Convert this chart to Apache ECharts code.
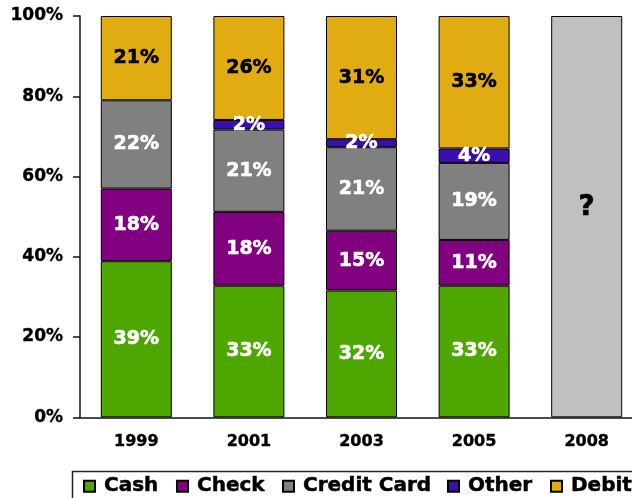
<!DOCTYPE html>
<html>
<head>
<meta charset="utf-8">
<script src="https://cdn.jsdelivr.net/npm/echarts@6/dist/echarts.min.js"></script>
<style>html,body{margin:0;padding:0;background:#fff}#c{width:632px;height:498px}</style>
</head>
<body>
<div id="c"></div>
<script>
var years = ['1999', '2001', '2003', '2005', '2008'];
var cash = [38.9, 32.8, 31.6, 32.8, null];
var check = [18.1, 18.4, 14.9, 11.4, null];
var creditCard = [22.0, 20.5, 20.8, 19.2, null];
var other = [null, 2.4, 2.0, 3.6, null];
var debit = [21.0, 25.9, 30.7, 33.0, null];
var unknown = [null, null, null, null, 100];
var yTicks = [0, 20, 40, 60, 80, 100];

var FONT = '"DejaVu Sans", Verdana, sans-serif';
var chart = echarts.init(document.getElementById('c'));

function pct(p) { return p.value == null ? '' : Math.round(p.value) + '%'; }

function mk(name, data, color, labelColor) {
  return {
    name: name, type: 'bar', stack: 'total', data: data, barWidth: 71,
    itemStyle: { color: color, borderColor: '#000', borderWidth: 1 },
    label: { show: true, position: 'inside', formatter: pct, color: labelColor,
      textBorderColor: labelColor, textBorderWidth: 0.6,
      fontFamily: FONT, fontWeight: 'bold', fontSize: 19 },
    emphasis: { disabled: true }
  };
}

var names = ['Cash', 'Check', 'Credit Card', 'Other', 'Debit'];
var legendLeft = [83, 176, 282, 447, 550];
var legends = names.map(function (n, i) {
  return {
    data: [n], left: legendLeft[i], top: 476, padding: 0,
    itemWidth: 11, itemHeight: 11, icon: 'rect', selectedMode: false,
    textStyle: { fontFamily: FONT, fontWeight: 'bold', fontSize: 20, color: '#000',
      textBorderColor: '#000', textBorderWidth: 0.5, padding: [0, 0, 0, 4] }
  };
});

chart.setOption({
  animation: false,
  backgroundColor: '#fff',
  grid: { left: 80, top: 16, width: 563, height: 401.3, outerBoundsMode: 'none', containLabel: false },
  legend: legends,
  xAxis: {
    type: 'category', data: years,
    axisLine: { lineStyle: { color: '#111', width: 1.5 } },
    axisTick: { length: 6, lineStyle: { color: '#111', width: 1.5 } },
    axisLabel: { color: '#000', fontFamily: FONT, fontWeight: 'bold', fontSize: 16, margin: 17,
      textBorderColor: '#000', textBorderWidth: 0.4 }
  },
  yAxis: {
    type: 'value', min: yTicks[0], max: yTicks[yTicks.length - 1], interval: 20,
    axisLine: { show: true, lineStyle: { color: '#111', width: 1.5 } },
    axisTick: { show: true, length: 7, lineStyle: { color: '#111', width: 1.5 } },
    splitLine: { show: false },
    axisLabel: { formatter: '{value}%', color: '#000', fontFamily: FONT, fontWeight: 'bold', fontSize: 17, margin: 17,
      textBorderColor: '#000', textBorderWidth: 0.4 }
  },
  graphic: [{
    type: 'rect', shape: { x: 72.5, y: 471.5, width: 600, height: 60 },
    style: { fill: 'none', stroke: '#222', lineWidth: 1.5 }, silent: true
  }],
  series: [
    mk('Cash', cash, '#4ea600', '#fff'),
    mk('Check', check, '#800080', '#fff'),
    mk('Credit Card', creditCard, '#808080', '#fff'),
    mk('Other', other, '#3a0fae', '#fff'),
    mk('Debit', debit, '#e1ab12', '#000'),
    {
      name: 'Unknown', type: 'bar', stack: 'total', data: unknown, barWidth: 71,
      itemStyle: { color: '#c0c0c0', borderColor: '#000', borderWidth: 1 },
      label: { show: true, position: 'inside', formatter: '?', color: '#000', offset: [0, -9],
        textBorderColor: '#000', textBorderWidth: 0.6,
        fontFamily: FONT, fontWeight: 'bold', fontSize: 28 },
      emphasis: { disabled: true }
    }
  ]
});
</script>
</body>
</html>
